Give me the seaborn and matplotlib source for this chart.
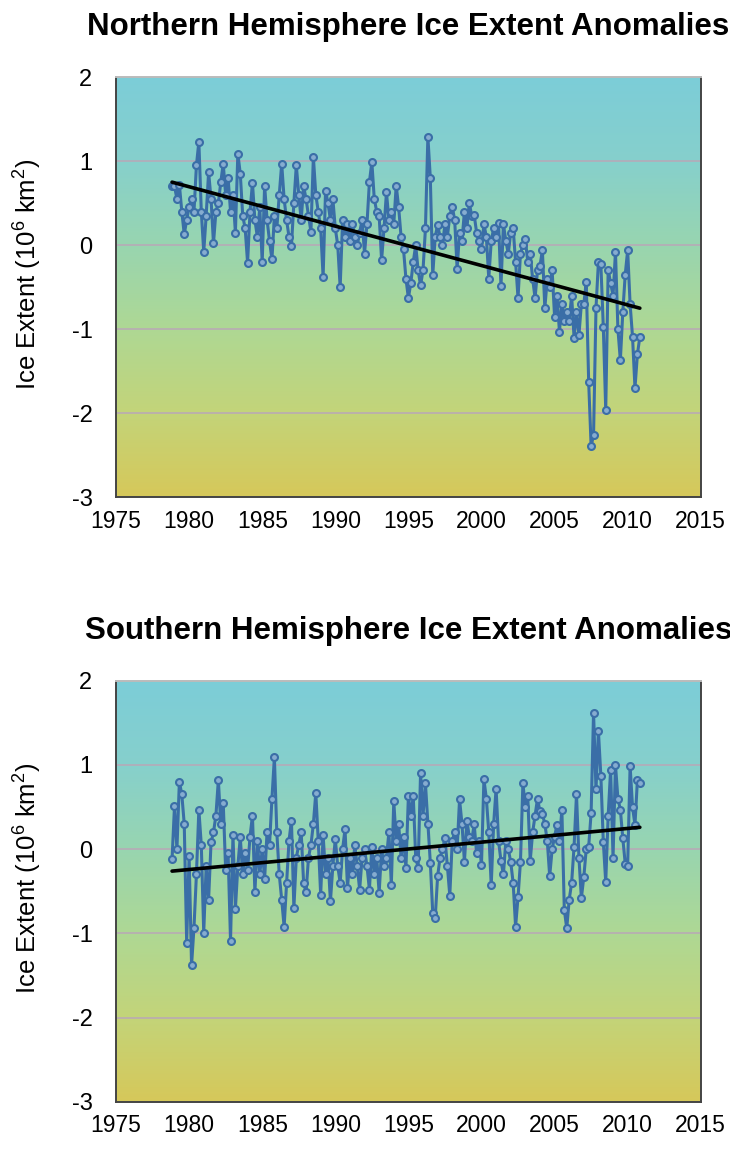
import numpy as np
import pandas as pd
import matplotlib
matplotlib.use("Agg")
import matplotlib.pyplot as plt
from matplotlib.colors import LinearSegmentedColormap
import seaborn as sns

# Bi-monthly sea-ice extent anomalies (10^6 km^2), first point Nov 1978
start_year = 1978.83
nh_anom = [
    0.71,
    0.70, 0.55, 0.72, 0.40, 0.13, 0.30,      # 1979
    0.45, 0.55, 0.40, 0.95, 1.23, 0.40,      # 1980
    -0.08, 0.35, 0.87, 0.55, 0.02, 0.40,     # 1981
    0.50, 0.75, 0.97, 0.60, 0.80, 0.40,      # 1982
    0.60, 0.15, 1.09, 0.85, 0.35, 0.20,      # 1983
    -0.21, 0.40, 0.74, 0.30, 0.10, 0.45,     # 1984
    -0.20, 0.71, 0.30, 0.05, -0.17, 0.35,    # 1985
    0.20, 0.60, 0.97, 0.55, 0.30, 0.10,      # 1986
    -0.01, 0.50, 0.95, 0.60, 0.30, 0.70,     # 1987
    0.55, 0.35, 0.16, 1.05, 0.60, 0.40,      # 1988
    0.20, -0.38, 0.65, 0.50, 0.30, 0.55,     # 1989
    0.20, 0.00, -0.50, 0.30, 0.10, 0.25,     # 1990
    0.05, 0.25, 0.10, 0.00, 0.15, 0.30,      # 1991
    -0.10, 0.25, 0.75, 0.99, 0.55, 0.40,     # 1992
    0.35, -0.18, 0.20, 0.63, 0.30, 0.40,     # 1993
    0.25, 0.71, 0.45, 0.10, -0.05, -0.40,    # 1994
    -0.63, -0.45, -0.20, 0.00, -0.30, -0.48, # 1995
    -0.30, 0.20, 1.29, 0.80, -0.36, 0.10,    # 1996
    0.24, 0.10, 0.00, 0.25, 0.10, 0.35,      # 1997
    0.46, 0.30, -0.28, 0.15, 0.05, 0.40,     # 1998
    0.20, 0.50, 0.35, 0.36, 0.15, 0.05,      # 1999
    -0.05, 0.25, 0.10, -0.40, 0.05, 0.20,    # 2000
    0.10, 0.26, -0.49, 0.25, 0.05, -0.10,    # 2001
    0.15, 0.20, -0.20, -0.63, -0.10, 0.00,   # 2002
    0.07, -0.20, -0.10, -0.40, -0.63, -0.30, # 2003
    -0.25, -0.06, -0.75, -0.40, -0.50, -0.30,# 2004
    -0.85, -0.60, -1.03, -0.70, -0.90, -0.80,# 2005
    -0.90, -0.60, -1.10, -0.80, -1.07, -0.70,# 2006
    -0.70, -0.44, -1.63, -2.39, -2.26, -0.75,# 2007
    -0.20, -0.23, -0.97, -1.96, -0.29, -0.45,# 2008
    -0.60, -0.08, -1.00, -1.37, -0.80, -0.35,# 2009
    -0.06, -0.70, -1.09, -1.70, -1.30, -1.09,# 2010
]
sh_anom = [
    -0.12,
    0.51, 0.00, 0.80, 0.65, 0.30, -1.11,     # 1979
    -0.08, -1.38, -0.93, -0.30, 0.47, 0.05,  # 1980
    -0.99, -0.20, -0.60, 0.08, 0.20, 0.40,   # 1981
    0.82, 0.30, 0.55, -0.25, -0.05, -1.09,   # 1982
    0.17, -0.71, -0.20, 0.14, -0.30, -0.05,  # 1983
    -0.25, 0.15, 0.40, -0.51, 0.10, -0.30,   # 1984
    0.00, -0.35, 0.21, 0.05, 0.60, 1.09,     # 1985
    0.20, -0.30, -0.60, -0.92, -0.40, 0.10,  # 1986
    0.34, -0.70, -0.10, 0.05, 0.20, -0.40,   # 1987
    -0.51, -0.10, 0.05, 0.30, 0.67, 0.10,    # 1988
    -0.54, 0.17, -0.30, -0.10, -0.62, -0.20, # 1989
    0.12, -0.20, -0.40, 0.00, 0.24, -0.46,   # 1990
    -0.10, -0.30, 0.05, -0.20, -0.48, -0.10, # 1991
    0.00, -0.20, -0.48, 0.03, -0.30, -0.10,  # 1992
    -0.52, 0.00, -0.20, -0.10, 0.20, -0.42,  # 1993
    0.57, 0.10, 0.30, -0.10, 0.15, -0.22,    # 1994
    0.63, 0.40, 0.63, -0.10, -0.22, 0.91,    # 1995
    0.40, 0.78, 0.30, -0.16, -0.76, -0.82,   # 1996
    -0.32, -0.10, 0.00, 0.13, -0.20, -0.55,  # 1997
    0.10, 0.20, 0.00, 0.59, 0.30, -0.15,     # 1998
    0.34, 0.15, 0.10, 0.30, -0.05, 0.10,     # 1999
    -0.19, 0.83, 0.60, 0.20, -0.43, 0.30,    # 2000
    0.72, 0.10, -0.14, -0.30, 0.10, 0.00,    # 2001
    -0.15, -0.40, -0.92, -0.57, -0.15, 0.78, # 2002
    0.50, 0.63, -0.14, 0.20, 0.40, 0.60,     # 2003
    0.45, 0.42, 0.30, 0.10, -0.32, 0.00,     # 2004
    0.15, 0.29, 0.10, 0.47, -0.72, -0.94,    # 2005
    -0.60, -0.40, 0.03, 0.65, -0.10, -0.58,  # 2006
    -0.33, 0.00, 0.03, 0.43, 1.62, 0.71,     # 2007
    1.40, 0.87, 0.09, -0.39, 0.40, 0.94,     # 2008
    -0.10, 1.00, 0.60, 0.47, 0.13, -0.17,    # 2009
    -0.20, 0.99, 0.50, 0.29, 0.82, 0.79,     # 2010
]

# Linear trend end points (start and end of record)
trend_years = [1978.83, 2010.83]
nh_trend = [0.75, -0.75]
sh_trend = [-0.26, 0.26]

titles = ["Northern Hemisphere Ice Extent Anomalies",
          "Southern Hemisphere Ice Extent Anomalies"]
x_ticks = [1975, 1980, 1985, 1990, 1995, 2000, 2005, 2010, 2015]
y_ticks = [-3, -2, -1, 0, 1, 2]

sns.set_style("white")
plt.rcParams["font.family"] = ["Liberation Sans", "DejaVu Sans"]
plt.rcParams["mathtext.fontset"] = "custom"
plt.rcParams["mathtext.rm"] = "Liberation Sans"
plt.rcParams["text.color"] = "black"
plt.rcParams["axes.labelcolor"] = "black"
plt.rcParams["xtick.color"] = "black"
plt.rcParams["ytick.color"] = "black"

bg_cmap = LinearSegmentedColormap.from_list(
    "ice_bg", ["#d6c85a", "#c3d479", "#aed894", "#98d5b0", "#86d0cc", "#7ccdd8"])

line_blue = "#3a6ea7"

fig = plt.figure(figsize=(7.30, 11.51), dpi=100)
axes_rects = [[0.159, 0.568, 0.801, 0.365],
              [0.159, 0.0426, 0.801, 0.366]]

for rect, title, series, trend in zip(axes_rects, titles,
                                      [nh_anom, sh_anom], [nh_trend, sh_trend]):
    ax = fig.add_axes(rect)
    years = start_year + np.arange(len(series)) / 6.0
    df = pd.DataFrame({"year": years, "anomaly": series})

    # vertical colour gradient behind the data
    grad = np.linspace(0, 1, 256).reshape(-1, 1)
    ax.imshow(grad, aspect="auto", cmap=bg_cmap, origin="lower",
              extent=[1975, 2015, -3, 2], zorder=0)

    for yv in y_ticks[1:-1]:
        ax.axhline(yv, color="#b9a7b7", lw=1.1, zorder=1)

    sns.lineplot(data=df, x="year", y="anomaly", ax=ax, color=line_blue,
                 lw=2.2, marker="o", markersize=5.0, markeredgewidth=1.5,
                 markerfacecolor="#86acd0", markeredgecolor=line_blue,
                 zorder=3)
    tdf = pd.DataFrame({"year": trend_years, "trend": trend})
    sns.lineplot(data=tdf, x="year", y="trend", ax=ax, color="black",
                 lw=2.6, zorder=4)

    ax.set_xlim(1975, 2015)
    ax.set_ylim(-3, 2)
    ax.set_xticks(x_ticks)
    ax.set_yticks(y_ticks)
    ax.set_xticklabels([str(t) for t in x_ticks], fontsize=16.5)
    ax.set_yticklabels([str(t) for t in y_ticks], fontsize=17)
    ax.tick_params(axis="x", direction="in", length=4, width=1.2,
                   color="#222222", pad=9)
    ax.tick_params(axis="y", length=0, pad=17)
    for side in ax.spines.values():
        side.set_color("#444444")
        side.set_linewidth(1.4)
    ax.spines["top"].set_color("#bbbbbb")
    ax.set_xlabel("")
    ax.set_ylabel(r"Ice Extent (10$^{6}$ km$^{2}$)", fontsize=18.5, labelpad=10)
    ax.yaxis.set_label_coords(-0.125, 0.53)
    ax.set_title(title, fontsize=22.5, fontweight="bold", pad=30, x=0.5)

fig.savefig("out.png", dpi=100)
